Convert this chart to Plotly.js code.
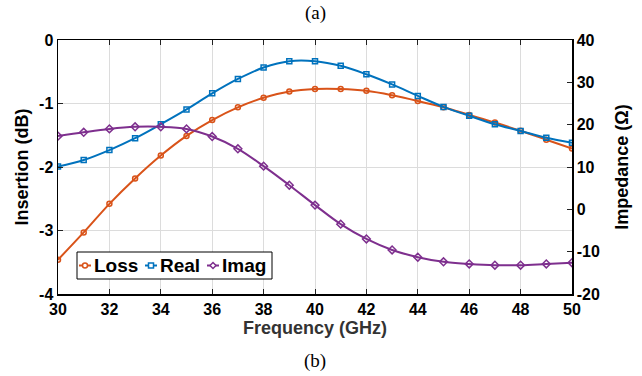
<!DOCTYPE html>
<html>
<head>
<meta charset="utf-8">
<script src="https://cdn.plot.ly/plotly-3.0.1.min.js"></script>
<style>html,body{margin:0;padding:0;background:#fff;}#chart{width:642px;height:376px;}</style>
</head>
<body>
<div id="chart"></div>
<script>
const freq = [30,31,32,33,34,35,36,37,38,39,40,41,42,43,44,45,46,47,48,49,50];
const lossDb = [-3.46,-3.03,-2.58,-2.18,-1.82,-1.51,-1.26,-1.06,-0.91,-0.81,-0.77,-0.77,-0.80,-0.87,-0.96,-1.06,-1.18,-1.30,-1.43,-1.57,-1.71];
const realOhm = [10.1,11.65,14.0,16.8,20.1,23.6,27.4,30.8,33.5,35.0,35.0,33.9,31.9,29.5,26.8,24.2,22.1,20.1,18.5,16.9,15.7];
const imagOhm = [17.3,18.2,19.0,19.5,19.5,19.0,17.2,14.3,10.2,5.7,1.0,-3.5,-7.0,-9.6,-11.3,-12.4,-12.9,-13.2,-13.2,-12.9,-12.6];
const seriesNames = ['Loss', 'Real', 'Imag'];
const seriesColors = ['#D95319', '#0072BD', '#7E2F8E'];
const xTicks = [30,32,34,36,38,40,42,44,46,48,50];
const yLeftTicks = [-4,-3,-2,-1,0];
const yRightTicks = [-20,-10,0,10,20,30,40];

const sans = "'Liberation Sans', Arial, sans-serif";
const serif = "'Liberation Serif', 'Times New Roman', serif";

const W = 642, H = 376;
const M = {l: 58, r: 70, t: 40, b: 82};
const PW = W - M.l - M.r, PH = H - M.t - M.b;
const px = v => (v - M.l) / PW;
const py = v => (M.t + PH - v) / PH;

const symbols = ['circle-open', 'square-open', 'diamond-open'];
const ys = [lossDb, realOhm, imagOhm];
const axes = ['y', 'y2', 'y2'];

const traces = seriesNames.map((n, i) => ({
  x: freq, y: ys[i], name: n, yaxis: axes[i], mode: 'lines+markers', showlegend: false,
  line: {color: seriesColors[i], width: 2, shape: 'spline'},
  marker: {symbol: symbols[i], size: i === 2 ? 6 : 5, color: seriesColors[i], line: {width: 1.5}}
}));

// custom compact legend (MATLAB style)
const legBox = {x0: 77, x1: 272, y0: 252, y1: 279};
const legItemX = [79, 145, 207];
const legCy = 265.5;
const shapes = [
  {type: 'rect', xref: 'paper', yref: 'paper', x0: px(legBox.x0), x1: px(legBox.x1), y0: py(legBox.y1), y1: py(legBox.y0),
   line: {color: '#000', width: 1}, fillcolor: '#fff', layer: 'above'}
];
const annotations = [];
seriesNames.forEach((n, i) => {
  const x0 = legItemX[i], x1 = x0 + 12, cx = x0 + 6;
  shapes.push({type: 'line', xref: 'paper', yref: 'paper', x0: px(x0), x1: px(x1), y0: py(legCy), y1: py(legCy),
    line: {color: seriesColors[i], width: 2}, layer: 'above'});
  if (i === 0) {
    shapes.push({type: 'circle', xref: 'paper', yref: 'paper', x0: px(cx - 2.5), x1: px(cx + 2.5), y0: py(legCy + 2.5), y1: py(legCy - 2.5),
      line: {color: seriesColors[i], width: 1.5}, fillcolor: '#fff', layer: 'above'});
  } else if (i === 1) {
    shapes.push({type: 'rect', xref: 'paper', yref: 'paper', x0: px(cx - 2.5), x1: px(cx + 2.5), y0: py(legCy + 2.5), y1: py(legCy - 2.5),
      line: {color: seriesColors[i], width: 1.5}, fillcolor: '#fff', layer: 'above'});
  } else {
    const d = 3;
    shapes.push({type: 'path', xref: 'paper', yref: 'paper',
      path: `M ${px(cx)} ${py(legCy - d)} L ${px(cx + d)} ${py(legCy)} L ${px(cx)} ${py(legCy + d)} L ${px(cx - d)} ${py(legCy)} Z`,
      line: {color: seriesColors[i], width: 1.5}, fillcolor: '#fff', layer: 'above'});
  }
  annotations.push({text: n, xref: 'paper', yref: 'paper', x: px(x1 + 1), y: py(legCy), xanchor: 'left', yanchor: 'middle',
    showarrow: false, font: {family: sans, size: 19, weight: 'bold', color: '#000'}});
});
annotations.push(
  {text: '(a)', xref: 'paper', yref: 'paper', x: 0.5, y: py(13), showarrow: false,
   font: {family: serif, size: 19, weight: 'normal', color: '#000'}, xanchor: 'center', yanchor: 'middle'},
  {text: '(b)', xref: 'paper', yref: 'paper', x: 0.5, y: py(361), showarrow: false,
   font: {family: serif, size: 19, weight: 'normal', color: '#000'}, xanchor: 'center', yanchor: 'middle'}
);

const tickFont = {family: sans, size: 16, weight: 'bold', color: '#000'};
const titleFont = {family: sans, size: 18, weight: 'bold', color: '#000'};

const layout = {
  width: W, height: H, margin: M,
  paper_bgcolor: '#fff', plot_bgcolor: '#fff',
  font: {family: sans, size: 14, color: '#000'},
  xaxis: {
    range: [30, 50], tickvals: xTicks, ticktext: xTicks.map(String),
    showgrid: true, gridcolor: '#dcdcdc', gridwidth: 1,
    showline: true, linecolor: '#000', linewidth: 1.5, mirror: 'ticks',
    ticks: 'inside', ticklen: 5, tickcolor: '#222', tickwidth: 1,
    tickfont: tickFont, zeroline: false,
    title: {text: 'Frequency (GHz)', font: Object.assign({}, titleFont, {color: '#333'}), standoff: 2}
  },
  yaxis: {
    range: [-4, 0], tickvals: yLeftTicks, ticktext: yLeftTicks.map(String),
    showgrid: true, gridcolor: '#dcdcdc', gridwidth: 1,
    showline: true, linecolor: '#000', linewidth: 1.5,
    ticks: 'inside', ticklen: 5, tickcolor: '#222',
    tickfont: tickFont, zeroline: false,
    title: {text: 'Insertion (dB)', font: titleFont, standoff: 6}
  },
  yaxis2: {
    overlaying: 'y', side: 'right',
    range: [-20, 40], tickvals: yRightTicks, ticktext: yRightTicks.map(String),
    showgrid: false,
    showline: true, linecolor: '#000', linewidth: 1.5,
    ticks: 'inside', ticklen: 5, tickcolor: '#222',
    tickfont: tickFont, zeroline: false,
    title: {text: 'Impedance (Ω)', font: titleFont, standoff: 16}
  },
  shapes: shapes,
  annotations: annotations
};

Plotly.newPlot('chart', traces, layout, {displayModeBar: false, staticPlot: true});
</script>
</body>
</html>
